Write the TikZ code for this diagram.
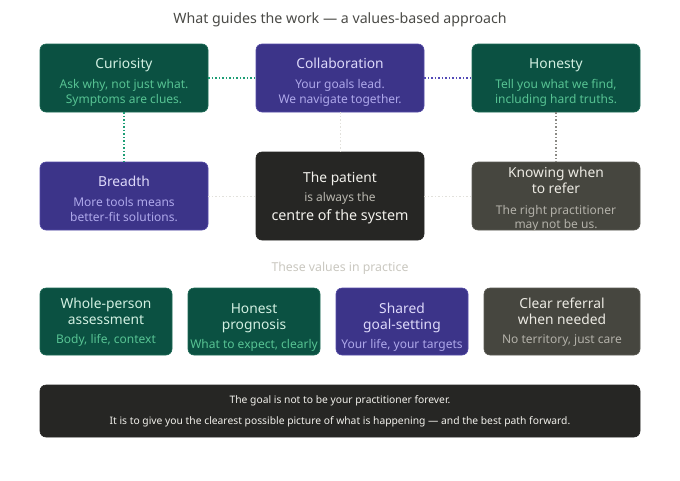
\documentclass[tikz,border=0pt]{standalone}
\usepackage{fontspec}
\setmainfont{Noto Sans}
\usepackage{xcolor}
\definecolor{greenFill}{HTML}{0B5142}
\definecolor{greenLine}{HTML}{1C6A55}
\definecolor{greenHead}{HTML}{D2F0E2}
\definecolor{greenSub}{HTML}{57C393}
\definecolor{purpleFill}{HTML}{3C3489}
\definecolor{purpleLine}{HTML}{544BA6}
\definecolor{purpleHead}{HTML}{DDD9FA}
\definecolor{purpleSub}{HTML}{AEA8EA}
\definecolor{greyFill}{HTML}{46463F}
\definecolor{greyLine}{HTML}{5C5C55}
\definecolor{greyHead}{HTML}{ECEAE3}
\definecolor{greySub}{HTML}{B3B1A9}
\definecolor{darkFill}{HTML}{262624}
\definecolor{darkHead}{HTML}{F2F1EC}
\definecolor{darkSub}{HTML}{B8B6AE}
\definecolor{titleGrey}{HTML}{4A4A46}
\definecolor{noteGrey}{HTML}{C9C7BF}
\definecolor{faintLine}{HTML}{E2E1DC}
\definecolor{dotGreen}{HTML}{1D9E75}
\definecolor{dotPurple}{HTML}{534AB7}
\definecolor{dotGrey}{HTML}{8A8984}
\newcommand{\headFont}{\fontsize{13.8}{15}\selectfont}
\newcommand{\subFont}{\fontsize{12}{15}\selectfont}
\newcommand{\subLine}[2]{\textcolor{#1}{\subFont #2}}
\newcommand{\topGap}[1]{\rule{0pt}{#1pt}}

\begin{document}
\begin{tikzpicture}[x=1pt, y=-1pt]
        \tikzstyle{boxStyle} = [rectangle, rounded corners=6pt, line width=0.6pt,
            align=center, inner sep=1pt, font=\headFont]
        \tikzstyle{greenBox} = [boxStyle, fill=greenFill, draw=greenLine, text=greenHead]
        \tikzstyle{purpleBox} = [boxStyle, fill=purpleFill, draw=purpleLine, text=purpleHead]
        \tikzstyle{greyBox} = [boxStyle, fill=greyFill, draw=greyLine, text=greyHead]
        \tikzstyle{darkBox} = [boxStyle, fill=darkFill, draw=darkFill, text=darkHead]
        \tikzstyle{bigBox} = [minimum width=168pt, minimum height=68pt]
        \tikzstyle{smallBox} = [minimum width=132pt, minimum height=67pt]
        \tikzstyle{dotEdge} = [line width=1.3pt, dash pattern=on 1.5pt off 2pt]
        \useasboundingbox (0,0) rectangle (680,480);
        % heading
        \node[text=titleGrey, font=\fontsize{14.2}{15}\selectfont] (head) at (340,20)
            {What guides the work — a values-based approach};
        % values
        \node[greenBox, bigBox] (curiosity) at (124,78) {\topGap{18}Curiosity\\[5pt]
            \subLine{greenSub}{Ask why, not just what.}\\\subLine{greenSub}{Symptoms are clues.}};
        \node[purpleBox, bigBox] (collab) at (340,78) {\topGap{18}Collaboration\\[5pt]
            \subLine{purpleSub}{Your goals lead.}\\\subLine{purpleSub}{We navigate together.}};
        \node[greenBox, bigBox] (honesty) at (556,78) {\topGap{18}Honesty\\[5pt]
            \subLine{greenSub}{Tell you what we find,}\\\subLine{greenSub}{including hard truths.}};
        \node[purpleBox, bigBox] (breadth) at (124,196) {\topGap{17}Breadth\\[5pt]
            \subLine{purpleSub}{More tools means}\\\subLine{purpleSub}{better-fit solutions.}};
        \node[darkBox, minimum width=168pt, minimum height=88pt] (patient) at (340,196)
            {\topGap{14}The patient\\[4pt]\subLine{darkSub}{is always the}\\[4pt]
            {\fontsize{14.3}{15}\selectfont centre of the system}};
        \node[greyBox, bigBox, inner ysep=-4pt] (refer) at (556,196) {\topGap{17}Knowing when\\[1pt]to refer\\[6pt]
            \subLine{greySub}{The right practitioner}\\[-1pt]\subLine{greySub}{may not be us.}};
        % links
        \foreach \from/\to in {collab/patient, breadth/patient, patient/refer}
            \path[dotEdge, draw=faintLine, line width=1pt] (\from) -- (\to);
        \foreach \from/\to in {curiosity/collab, curiosity/breadth}
            \path[dotEdge, draw=dotGreen] (\from) -- (\to);
        \path[dotEdge, draw=dotPurple] (collab) -- (honesty);
        \path[dotEdge, draw=dotGrey] (honesty) -- (refer);
        % practice
        \node[text=noteGrey, font=\fontsize{12.3}{13}\selectfont] (practice) at (340,268)
            {These values in practice};
        \node[greenBox, smallBox] (whole) at (106,321.5) {\topGap{11}Whole-person\\[1pt]assessment\\[4pt]
            \subLine{greenSub}{Body, life, context}};
        \node[greenBox, smallBox] (prognosis) at (254,321.5)
            {\topGap{22}Honest\\[1pt]prognosis\\[4pt]\subLine{greenSub}{What to expect, clearly}};
        \node[purpleBox, smallBox] (shared) at (402,321.5)
            {\topGap{22}Shared\\[1pt]goal-setting\\[4pt]\subLine{purpleSub}{Your life, your targets}};
        \node[greyBox, minimum width=156pt, minimum height=67pt] (referral) at (562,321.5)
            {\topGap{11}Clear referral\\[1pt]when needed\\[4pt]\subLine{greySub}{No territory, just care}};
        % goal
        \node[darkBox, minimum width=600pt, minimum height=52pt, text=darkHead,
            font=\fontsize{10.3}{21}\selectfont] (goal) at (340,411)
            {The goal is not to be your practitioner forever.\\
            It is to give you the clearest possible picture of what is happening — and the best path forward.};
    \end{tikzpicture}
\end{document}
